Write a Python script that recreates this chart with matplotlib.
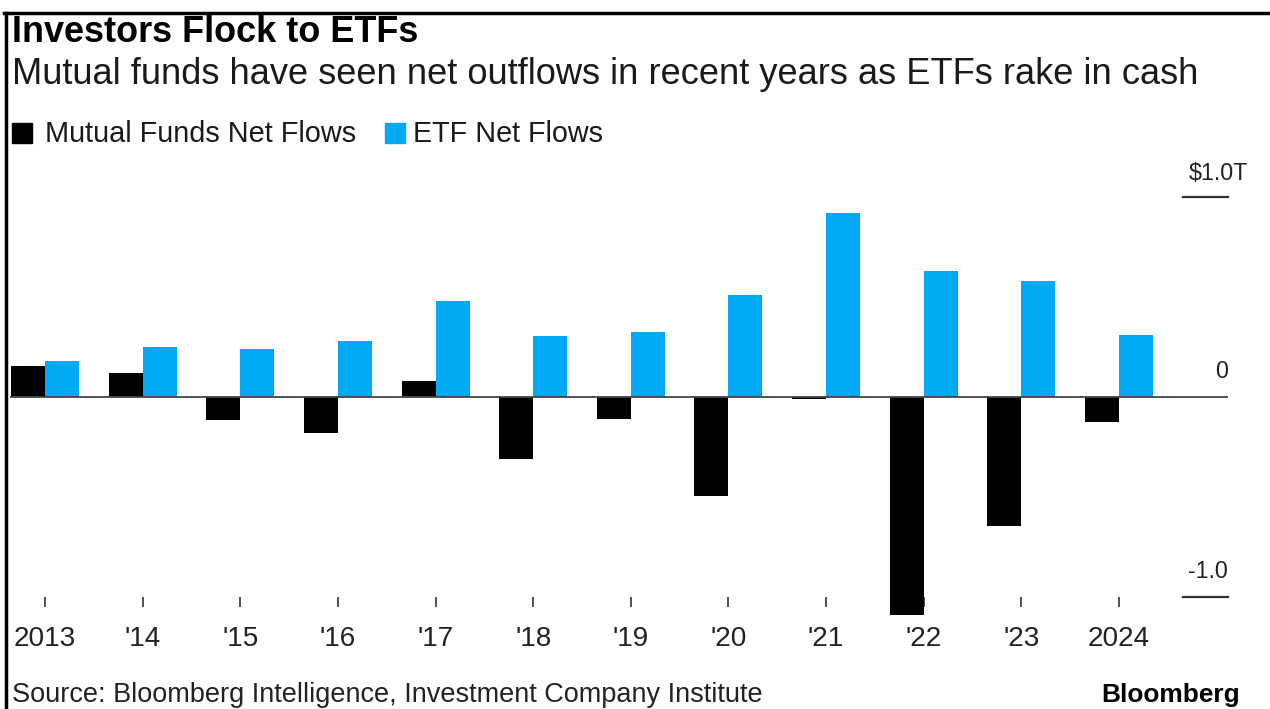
import matplotlib
matplotlib.use("Agg")
import matplotlib.pyplot as plt
from matplotlib.lines import Line2D
from matplotlib.patches import Rectangle
import numpy as np

years = ["2013", "'14", "'15", "'16", "'17", "'18", "'19", "'20", "'21", "'22", "'23", "2024"]
mutual_funds = [0.155, 0.12, -0.115, -0.18, 0.08, -0.31, -0.11, -0.495, -0.01, -1.09, -0.645, -0.125]
etf = [0.18, 0.25, 0.24, 0.28, 0.48, 0.305, 0.325, 0.51, 0.92, 0.63, 0.58, 0.31]
y_ticks = [1.0, 0.0, -1.0]
y_labels = ["$1.0T", "0", "-1.0"]

W, H = 1270, 709
plt.rcParams['font.family'] = ['Liberation Sans', 'DejaVu Sans']
fig = plt.figure(figsize=(W / 100, H / 100), dpi=100)
renderer = fig.canvas.get_renderer()

def fx(x):
    return x / W

def fy(y):
    return 1 - y / H

def fit_size(s, width, weight='normal'):
    t = fig.text(0, 0, s, fontsize=20, fontweight=weight)
    w = t.get_window_extent(renderer).width
    t.remove()
    return 20 * width / w

def ftext(x, y, s, width, weight='normal', ha='left', va='baseline', color='#111111'):
    size = fit_size(s, width, weight)
    return fig.text(fx(x), fy(y), s, fontsize=size, fontweight=weight, ha=ha, va=va, color=color)

BLUE = '#00A9F4'

# axes: zero at py 397, 200 px per 1.0T
ax_left, ax_right, ax_top, ax_bot = 10, 1228, 150, 607
ax = fig.add_axes([fx(ax_left), fy(ax_bot), fx(ax_right - ax_left), (ax_bot - ax_top) / H])
ax.set_ylim((397 - ax_bot) / 200, (397 - ax_top) / 200)
# tick 0 at px 45, tick 11 at px 1119
step = (1119 - 45) / 11
ax.set_xlim((ax_left - 45) / step, (ax_right - 45) / step)

x = np.arange(len(years))
bw = 34 / step
ax.bar(x - bw / 2, mutual_funds, width=bw, color='black', zorder=3, clip_on=False)
ax.bar(x + bw / 2, etf, width=bw, color=BLUE, zorder=3, clip_on=False)

ax.axhline(0, color='#444444', lw=1.3, zorder=4)
for v in (y_ticks[0], y_ticks[2]):
    ax.axhline(v, xmin=(1183 - ax_left) / (ax_right - ax_left), xmax=1, color='#333333', lw=1.6, clip_on=False)

for s in ax.spines.values():
    s.set_visible(False)
ax.set_yticks([])
ax.set_axisbelow(True)
ax.set_xticks(x)
tick_size = fit_size("2013", 62)
ax.set_xticklabels(years, fontsize=tick_size, color='#222222')
ax.tick_params(axis='x', direction='in', length=7.5, width=1.2, color='#333333', pad=14)
ax.patch.set_alpha(0)

# right-side value labels
lab_size = fit_size("-1.0", 40)
fig.text(fx(1248), fy(180), y_labels[0], fontsize=lab_size, ha='right', va='baseline', color='#222222')
fig.text(fx(1228), fy(378), y_labels[1], fontsize=lab_size, ha='right', va='baseline', color='#222222')
fig.text(fx(1228), fy(578), y_labels[2], fontsize=lab_size, ha='right', va='baseline', color='#222222')

# titles
ftext(12, 42, "Investors Flock to ETFs", 406, weight='bold', color='black')
ftext(12, 84, "Mutual funds have seen net outflows in recent years as ETFs rake in cash", 1183, color='#1a1a1a')

# legend
fig.patches.append(Rectangle((fx(12), fy(143)), 20 / W, 20 / H, transform=fig.transFigure, color='black', figure=fig))
ftext(45, 142, "Mutual Funds Net Flows", 310, color='#1a1a1a')
fig.patches.append(Rectangle((fx(385), fy(143)), 20 / W, 20 / H, transform=fig.transFigure, color=BLUE, figure=fig))
ftext(413, 142, "ETF Net Flows", 190, color='#1a1a1a')

# footer
ftext(12, 702, "Source: Bloomberg Intelligence, Investment Company Institute", 750, color='#222222')
ftext(1240, 702, "Bloomberg", 138, weight='bold', ha='right', color='black')

# frame
fig.lines.append(Line2D([fx(4), fx(1270)], [fy(13), fy(13)], transform=fig.transFigure, color='black', lw=2.5))
fig.lines.append(Line2D([fx(5.5), fx(5.5)], [fy(13), fy(709)], transform=fig.transFigure, color='black', lw=2.5))

fig.savefig("out.png", dpi=100, facecolor='white')
